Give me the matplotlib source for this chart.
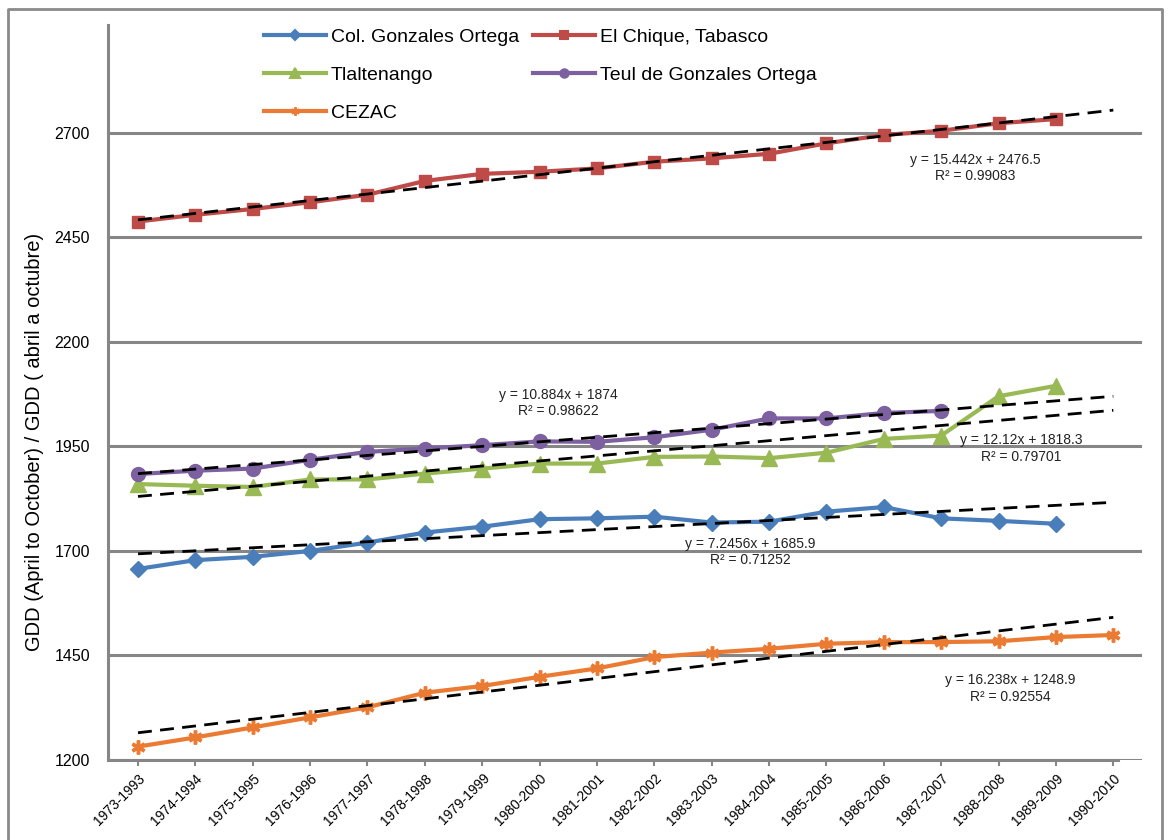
import numpy as np
import matplotlib
matplotlib.use("Agg")
import matplotlib.pyplot as plt
from matplotlib.lines import Line2D

plt.rcParams["font.family"] = ["Liberation Sans Narrow", "Liberation Sans", "DejaVu Sans"]

# data

periods = ["1973-1993", "1974-1994", "1975-1995", "1976-1996", "1977-1997", "1978-1998",
           "1979-1999", "1980-2000", "1981-2001", "1982-2002", "1983-2003", "1984-2004",
           "1985-2005", "1986-2006", "1987-2007", "1988-2008", "1989-2009", "1990-2010"]

col_gonzales = [1657, 1678, 1686, 1700, 1720, 1744, 1758, 1776, 1778, 1782, 1768, 1770,
                1794, 1805, 1778, 1772, 1765]
el_chique = [2488, 2504, 2518, 2534, 2552, 2585, 2602, 2607, 2615, 2631, 2639, 2650,
             2675, 2695, 2705, 2723, 2733]
tlaltenango = [1860, 1856, 1853, 1871, 1871, 1885, 1897, 1909, 1909, 1925, 1926, 1922,
               1935, 1968, 1976, 2070, 2095]
teul = [1884, 1892, 1897, 1918, 1937, 1945, 1953, 1962, 1961, 1972, 1990, 2017, 2017,
        2030, 2035]
cezac = [1232, 1254, 1278, 1302, 1326, 1361, 1377, 1399, 1419, 1446, 1457, 1466, 1478,
         1482, 1482, 1484, 1494, 1499]

# Excel linear trendlines (x = 1, 2, ...)
trend_slope = [7.2456, 15.442, 12.12, 10.884, 16.238]
trend_icpt = [1685.9, 2476.5, 1818.3, 1874, 1248.9]
trend_r2 = ["0.71252", "0.99083", "0.79701", "0.98622", "0.92554"]
trend_label_pos = [(10.67, 1697), (14.6, 2616), (15.4, 1945), (7.32, 2053), (15.2, 1371)]

names = ["Col. Gonzales Ortega", "El Chique, Tabasco", "Tlaltenango",
         "Teul de Gonzales Ortega", "CEZAC"]
series = [col_gonzales, el_chique, tlaltenango, teul, cezac]
colors = ["#4A7EBB", "#BE4B48", "#98B954", "#7D60A0", "#EB7A33"]
markers = ["D", "s", "^", "o", (6, 2, 0)]
msizes = [8, 9, 11, 10, 10]

fig = plt.figure(figsize=(11.69, 8.40), dpi=100)
ax = fig.add_axes([108 / 1169, 80 / 840, (1142 - 108) / 1169, (815 - 80) / 840])

x_all = np.arange(len(periods))

handles = []
for name, vals, c, m, ms in zip(names, series, colors, markers, msizes):
    xs = x_all[:len(vals)]
    if isinstance(m, tuple):
        ax.plot(xs, vals, color=c, lw=3, marker=m, ms=ms, mec=c, mew=2.5, zorder=3)
    else:
        ax.plot(xs, vals, color=c, lw=3, marker=m, ms=ms, mec=c, mfc=c, zorder=3)
    handles.append(Line2D([0], [0], color=c, lw=3, marker=m, ms=ms * 0.6,
                          mec=c, mew=1.5))

for k in range(len(names)):
    xt = np.array([1, len(periods)])
    yt = trend_slope[k] * xt + trend_icpt[k]
    ax.plot(xt - 1, yt, color="black", lw=2, ls=(0, (5, 3)), zorder=4)
    txt = "y = %gx + %g\nR² = %s" % (trend_slope[k], trend_icpt[k], trend_r2[k])
    ax.text(trend_label_pos[k][0], trend_label_pos[k][1], txt, ha="center",
            va="center", fontsize=10, family=["Liberation Sans", "DejaVu Sans"],
            color="#222222", linespacing=1.2, zorder=5)

ax.set_xlim(-0.523, 17.5)
ax.set_ylim(1200, 2958)
ax.set_yticks([1200, 1450, 1700, 1950, 2200, 2450, 2700])
ax.set_xticks(x_all)
ax.set_xticklabels(periods, rotation=45, ha="right", rotation_mode="anchor",
                   fontsize=10, family=["Liberation Sans", "DejaVu Sans"])
ax.tick_params(axis="x", length=4, width=1.5, color="#868686", pad=4)
ax.tick_params(axis="y", length=0, pad=13, labelsize=11.5)
for lbl in ax.get_yticklabels():
    lbl.set_family(["Liberation Sans", "DejaVu Sans"])

ax.grid(axis="y", color="#868686", lw=2.2)
ax.set_axisbelow(True)
for s in ["top", "right"]:
    ax.spines[s].set_visible(False)
for s in ["left", "bottom"]:
    ax.spines[s].set_color("#868686")
    ax.spines[s].set_linewidth(2.2)
ax.spines["bottom"].set_bounds(-0.523, 17.08)

fig.text(35 / 1169, 1 - 442 / 840, "GDD (April to October) / GDD ( abril a octubre)",
         rotation=90, ha="center", va="center", fontsize=14.5)

order = [0, 2, 4, 1, 3]
fig.legend([handles[i] for i in order], [names[i] for i in order], ncol=2,
           loc="upper left", bbox_to_anchor=(250 / 1169, 1 - 15 / 840),
           frameon=False, fontsize=14, handlelength=3.2, handletextpad=0.25,
           columnspacing=0.7, labelspacing=1.05, borderpad=0.2)

# outer chart border
fig.add_artist(Line2D([8 / 1169, 8 / 1169, 1162 / 1169, 1162 / 1169],
                      [0, 1 - 9 / 840, 1 - 9 / 840, 0], color="#8A8A8A", lw=2,
                      transform=fig.transFigure))

fig.savefig("out.png", dpi=100)
